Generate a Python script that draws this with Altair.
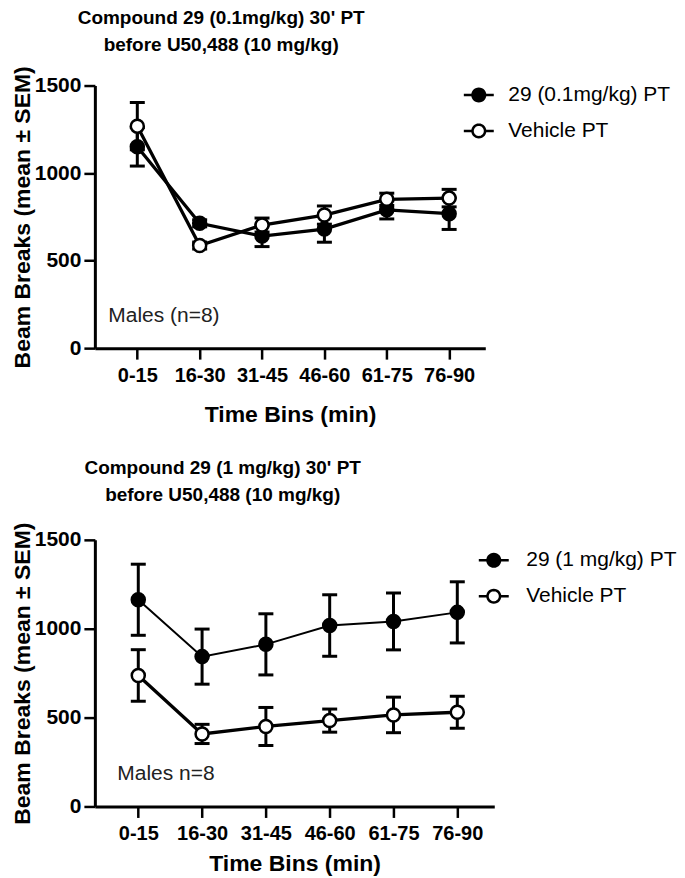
import math
import altair as alt
import pandas as pd

bins = ["0-15", "16-30", "31-45", "46-60", "61-75", "76-90"]

# Panel 1: Compound 29 (0.1 mg/kg)
top_drug_label = "29 (0.1mg/kg) PT"
top_veh_label = "Vehicle PT"
top_drug_mean = [1150, 713, 640, 680, 790, 768]
top_drug_sem = [110, 20, 60, 75, 52, 90]
top_veh_mean = [1268, 586, 703, 760, 850, 857]
top_veh_sem = [135, 20, 40, 52, 35, 50]
top_title = ["Compound 29 (0.1mg/kg) 30' PT", "before U50,488 (10 mg/kg)"]
top_note = "Males (n=8)"

# Panel 2: Compound 29 (1 mg/kg)
bot_drug_label = "29 (1 mg/kg) PT"
bot_veh_label = "Vehicle PT"
bot_drug_mean = [1163, 843, 912, 1018, 1041, 1092]
bot_drug_sem = [200, 155, 172, 173, 160, 172]
bot_veh_mean = [737, 408, 450, 483, 515, 530]
bot_veh_sem = [145, 54, 107, 65, 100, 90]
bot_title = ["Compound 29 (1 mg/kg) 30' PT", "before U50,488 (10 mg/kg)"]
bot_note = "Males n=8"

y_ticks = [0, 500, 1000, 1500]

FONT = "Liberation Sans"

# legend glyph: short line segments either side of a circle (polygon approx.)
_r = 0.42
_circ = " ".join(
    ("M" if i == 0 else "L")
    + f"{_r * math.cos(2 * math.pi * i / 28):.3f},{_r * math.sin(2 * math.pi * i / 28):.3f}"
    for i in range(28)
) + "Z"
LEGEND_PATH = f"M-1,0L-{_r},0M{_r},0L1,0" + _circ


def panel_df(drug_label, drug_mean, drug_sem, veh_label, veh_mean, veh_sem):
    rows = []
    for lab, means, sems in ((drug_label, drug_mean, drug_sem),
                             (veh_label, veh_mean, veh_sem)):
        for b, m, s in zip(bins, means, sems):
            rows.append({"bin": b, "series": lab, "mean": m,
                         "lo": m - s, "hi": m + s})
    return pd.DataFrame(rows)


def panel(df, title_lines, note, drug_label, veh_label, width, height,
          legend_x, legend_y, drug_line_w, title_dx, title_offset,
          label_offset, note_dx, x_title_pad):
    xaxis = alt.Axis(title="Time Bins (min)", labelAngle=0,
                     titlePadding=x_title_pad)
    yaxis = alt.Axis(title="Beam Breaks (mean \u00b1 SEM)", values=y_ticks,
                     format="d", labelFlush=False)
    xscale = alt.Scale(type="point", padding=0.63, align=0.54)
    yscale = alt.Scale(domain=[0, 1500], nice=False)

    def xe():
        return alt.X("bin:N", sort=bins, scale=xscale, axis=xaxis)

    def ye(field):
        return alt.Y(f"{field}:Q", scale=yscale, axis=yaxis)

    base = alt.Chart(df)
    err = base.mark_rule(color="black", strokeWidth=3).encode(
        x=xe(), y=ye("lo"), y2="hi:Q")
    cap_lo = base.mark_tick(color="black", size=15, thickness=3, opacity=1).encode(
        x=xe(), y=ye("lo"))
    cap_hi = base.mark_tick(color="black", size=15, thickness=3, opacity=1).encode(
        x=xe(), y=ye("hi"))
    line = base.mark_line(color="black").encode(
        x=xe(), y=ye("mean"), detail="series:N",
        strokeWidth=alt.condition(f"datum.series == '{drug_label}'",
                                  alt.value(drug_line_w), alt.value(3.3)))
    pts = base.mark_point(shape="circle", filled=True, size=170, stroke="black",
                          strokeWidth=2.5, opacity=1).encode(
        x=xe(), y=ye("mean"),
        fill=alt.Fill("series:N",
                      scale=alt.Scale(domain=[drug_label, veh_label],
                                      range=["black", "white"]),
                      legend=alt.Legend(
                          title=None, orient="none", legendX=legend_x,
                          legendY=legend_y, symbolType=LEGEND_PATH,
                          symbolSize=900, symbolStrokeWidth=2.5,
                          symbolStrokeColor="black", labelFont=FONT,
                          labelFontSize=21, labelColor="black", labelLimit=400,
                          labelOffset=label_offset, rowPadding=8, padding=0)))
    note_df = pd.DataFrame({"bin": ["0-15"], "mean": [150], "text": [note]})
    txt = alt.Chart(note_df).mark_text(
        align="left", baseline="alphabetic", dx=note_dx, fontSize=21,
        font=FONT, color="#222").encode(x=xe(), y=ye("mean"), text="text:N")

    return alt.layer(err, cap_lo, cap_hi, line, pts, txt).properties(
        width=width, height=height,
        title=alt.TitleParams(text=title_lines, fontSize=19, fontWeight="bold",
                              font=FONT, color="black", anchor="middle",
                              dx=title_dx, offset=title_offset, lineHeight=27))


top_df = panel_df(top_drug_label, top_drug_mean, top_drug_sem,
                  top_veh_label, top_veh_mean, top_veh_sem)
bot_df = panel_df(bot_drug_label, bot_drug_mean, bot_drug_sem,
                  bot_veh_label, bot_veh_mean, bot_veh_sem)

top = panel(top_df, top_title, top_note, top_drug_label, top_veh_label,
            391, 263, 368, -7, 3.3, -69, 11, 13, -29, 18)
bot = panel(bot_df, bot_title, bot_note, bot_drug_label, bot_veh_label,
            400, 267, 383, 4, 2.0, -72, 17, 16, -21, 9)

chart = alt.vconcat(top, bot, spacing=33).resolve_scale(
    x="independent", y="independent", fill="independent"
).resolve_legend(fill="independent").properties(
    padding={"left": 3, "top": 0, "right": 0, "bottom": 0}
).configure_view(stroke=None).configure_axis(
    grid=False, domainColor="black", domainWidth=3, tickColor="black",
    tickWidth=2.5, tickSize=11, labelColor="black", labelFont=FONT,
    labelFontWeight="bold", titleColor="black", titleFont=FONT,
    titleFontWeight="bold", titleFontSize=23
).configure_axisX(
    labelFontSize=20, labelPadding=6
).configure_axisY(
    labelFontSize=21, labelPadding=3, titlePadding=0
)

chart.save("out.html", embed_options={"renderer": "svg", "actions": False})
